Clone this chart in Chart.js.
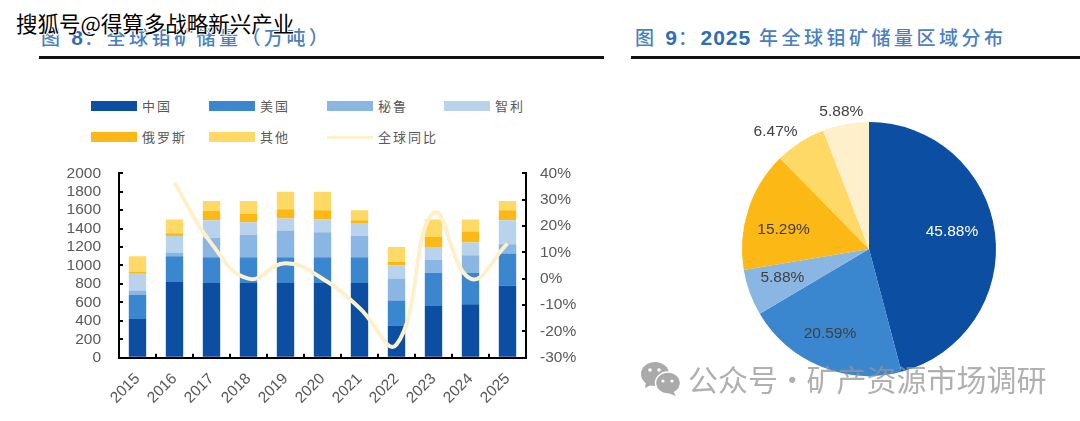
<!DOCTYPE html>
<html>
<head>
<meta charset="utf-8">
<script src="https://cdn.jsdelivr.net/npm/chart.js@4/dist/chart.umd.js"></script>
<style>
  html, body { margin: 0; padding: 0; background: #fff; }
  body { position: relative; width: 1080px; height: 421px; overflow: hidden; font-family: "Noto Sans CJK SC", sans-serif; }
  canvas { position: absolute; }
  .title { position: absolute; top: 23px; font-size: 19px; line-height: 28px; font-weight: 500; color: #4a7fc1; letter-spacing: 3.5px; white-space: nowrap; }
  .title b { font-family: "Liberation Sans"; font-size: 21px; color: #2f6db5; letter-spacing: 1px; }
  .rule { position: absolute; top: 56px; height: 3px; background: #111; }
  .mark { position: absolute; left: 16px; top: 8px; font-size: 21.5px; line-height: 30px; color: #000; white-space: nowrap; -webkit-text-stroke: 2px #fff; paint-order: stroke fill; z-index: 5; }
  .legend-swatch { position: absolute; width: 46px; height: 10px; }
  .legend-text { position: absolute; font-size: 13px; line-height: 16px; letter-spacing: 2px; color: #595959; white-space: nowrap; }
  .account { position: absolute; left: 688px; top: 357px; font-size: 30px; line-height: 42px; word-spacing: -7.5px; color: rgba(150,150,150,0.75); white-space: nowrap; z-index: 5; }
  .wechat { position: absolute; left: 640px; top: 361px; z-index: 5; }
</style>
</head>
<body>
<div class="mark">搜狐号@得算多战略新兴产业</div>

<div class="title" style="left:41px">图 <b>8</b>：全球钼矿储量（万吨）</div>
<div class="rule" style="left:39px;width:565px"></div>
<div class="title" style="left:635px">图 <b>9</b>：<b>2025</b> 年全球钼矿储量区域分布</div>
<div class="rule" style="left:631px;width:449px"></div>

<div id="legend"></div>
<canvas id="reserve-chart" style="left:50px;top:142px"></canvas>
<canvas id="share-chart" style="left:699px;top:99px"></canvas>

<svg class="wechat" width="42" height="36" viewBox="0 0 42 36">
  <ellipse cx="15" cy="13" rx="14" ry="12" fill="#aaa"/>
  <path d="M6 20 L5 27 L13 23 Z" fill="#aaa"/>
  <ellipse cx="28" cy="22" rx="12.5" ry="11" fill="#aaa" stroke="#fff" stroke-width="1.5"/>
  <path d="M33 30 L36 35 L28 32 Z" fill="#aaa"/>
  <circle cx="10" cy="9" r="1.8" fill="#fff"/><circle cx="19" cy="9" r="1.8" fill="#fff"/>
  <circle cx="23" cy="20" r="1.6" fill="#fff"/><circle cx="32" cy="20" r="1.6" fill="#fff"/>
</svg>
<div class="account">公众号 · 矿产资源市场调研</div>

<script>
// Reserves by country, 10k tonnes
let years = ['2015', '2016', '2017', '2018', '2019', '2020', '2021', '2022', '2023', '2024', '2025'];
let china  = [420, 820, 810, 810, 810, 810, 810, 350, 560, 580, 780];
let usa    = [260, 280, 280, 280, 280, 280, 280, 270, 360, 340, 350];
let peru   = [50, 40, 210, 240, 290, 270, 230, 240, 140, 190, 100];
let chile  = [180, 180, 190, 140, 130, 140, 140, 140, 140, 140, 260];
let russia = [20, 30, 100, 90, 100, 100, 30, 40, 110, 120, 110];
let others = [170, 150, 110, 140, 190, 200, 110, 160, 190, 130, 100];

// Global year on year change, percent
let globalYoy = [null, 36.4, 13.3, 0, 5.9, 0, -11.1, -25, 25, 0, 13.3];

// 2025 split
let shareNames = ['中国', '美国', '秘鲁', '智利', '俄罗斯', '其他'];
let shareValues = [45.88, 20.59, 5.88, 15.29, 6.47, 5.88];

// Colours
let colChina = '#0b4ea2';
let colUsa = '#3a86cf';
let colPeru = '#8ab6e3';
let colChile = '#b9d3ec';
let colRussia = '#fcb814';
let colOthers = '#ffd966';
let colYoy = '#fff0cc';

let tickColor = '#595959';
let tickFont = { family: '"Liberation Sans"', size: 15.5 };

//=======================================
//  Legend
//=======================================
let legendEl = document.getElementById('legend');

let legendItems = [
  { label: '中国', color: colChina, x: 91, y: 101 },
  { label: '美国', color: colUsa, x: 209, y: 101 },
  { label: '秘鲁', color: colPeru, x: 327, y: 101 },
  { label: '智利', color: colChile, x: 444, y: 101 },
  { label: '俄罗斯', color: colRussia, x: 91, y: 132 },
  { label: '其他', color: colOthers, x: 209, y: 132 },
  { label: '全球同比', color: colYoy, x: 327, y: 132, line: true }
];

legendItems.forEach(function(item) {
  let swatch = document.createElement('div');
  swatch.className = 'legend-swatch';
  swatch.style.left = item.x + 'px';
  swatch.style.top = (item.line ? item.y + 4 : item.y) + 'px';
  swatch.style.height = (item.line ? 3 : 10) + 'px';
  swatch.style.background = item.color;
  legendEl.appendChild(swatch);

  let text = document.createElement('div');
  text.className = 'legend-text';
  text.textContent = item.label;
  text.style.left = (item.x + 51) + 'px';
  text.style.top = (item.y - 3) + 'px';
  legendEl.appendChild(text);
});

//=======================================
//  Stacked bars with the change line
//=======================================
function barSet(label, data, color) {
  return {
    type: 'bar',
    label: label,
    data: data,
    backgroundColor: color,
    yAxisID: 'y',
    stack: 'reserves',
    order: 2,
    categoryPercentage: 1,
    barPercentage: 0.47
  };
}

let reserveCanvas = document.getElementById('reserve-chart');
reserveCanvas.style.width = '540px';
reserveCanvas.style.height = '268px';

new Chart(reserveCanvas, {
  type: 'bar',
  data: {
    labels: years,
    datasets: [
      barSet('中国', china, colChina),
      barSet('美国', usa, colUsa),
      barSet('秘鲁', peru, colPeru),
      barSet('智利', chile, colChile),
      barSet('俄罗斯', russia, colRussia),
      barSet('其他', others, colOthers),
      {
        type: 'line',
        label: '全球同比',
        data: globalYoy,
        yAxisID: 'y2',
        order: 1,
        borderColor: colYoy,
        borderWidth: 4,
        pointRadius: 0,
        tension: 0.45
      }
    ]
  },
  options: {
    responsive: false,
    animation: false,
    layout: { padding: { top: 14 } },
    plugins: { legend: { display: false }, tooltip: { enabled: false } },
    scales: {
      x: {
        stacked: true,
        grid: { drawOnChartArea: false, color: '#000', lineWidth: 2, tickLength: -4 },
        border: { color: '#000', width: 2 },
        ticks: { color: tickColor, font: tickFont, minRotation: 45, maxRotation: 45, padding: 16 },
        afterFit: function(scale) { scale.height = 52.3; }
      },
      y: {
        stacked: true,
        min: 0,
        max: 2000,
        grid: { drawOnChartArea: false, color: '#000', lineWidth: 2, tickLength: -4 },
        border: { color: '#000', width: 2 },
        ticks: {
          color: tickColor,
          font: tickFont,
          stepSize: 200,
          padding: 22,
          autoSkip: false,
          callback: function(value) { return String(value); }
        },
        afterFit: function(scale) { scale.width = 69; }
      },
      y2: {
        position: 'right',
        min: -30,
        max: 40,
        grid: { drawOnChartArea: false, color: '#000', lineWidth: 2, tickLength: -4 },
        border: { color: '#000', width: 2 },
        ticks: {
          color: tickColor,
          font: tickFont,
          stepSize: 10,
          padding: 18,
          autoSkip: false,
          callback: function(value) { return value + '%'; }
        },
        afterFit: function(scale) { scale.width = 64; }
      }
    }
  }
});

//=======================================
//  2025 pie
//=======================================
// label nudges from each slice's middle
let labelNudge = [[20, -9], [-15, 26], [-27, 7], [-25, 0], [-59, -64], [-16, -75]];
let labelColors = ['#fff', '#404040', '#404040', '#404040', '#404040', '#404040'];

let pieLabels = {
  id: 'pieLabels',
  afterDatasetsDraw: function(chart) {
    let ctx = chart.ctx;
    let arcs = chart.getDatasetMeta(0).data;

    ctx.save();
    ctx.font = '15.5px "Liberation Sans"';
    ctx.textAlign = 'center';
    ctx.textBaseline = 'middle';
    arcs.forEach(function(arc, i) {
      let pos = arc.tooltipPosition();
      ctx.fillStyle = labelColors[i];
      ctx.fillText(shareValues[i].toFixed(2) + '%', pos.x + labelNudge[i][0], pos.y + labelNudge[i][1]);
    });
    ctx.restore();
  }
};

let shareCanvas = document.getElementById('share-chart');
shareCanvas.style.width = '340px';
shareCanvas.style.height = '300px';

new Chart(shareCanvas, {
  type: 'pie',
  data: {
    labels: shareNames,
    datasets: [{
      data: shareValues,
      backgroundColor: [colChina, colUsa, colPeru, colRussia, colOthers, colYoy],
      borderWidth: 0,
      radius: 127
    }]
  },
  options: {
    responsive: false,
    animation: false,
    plugins: { legend: { display: false }, tooltip: { enabled: false } }
  },
  plugins: [pieLabels]
});
</script>
</body>
</html>
